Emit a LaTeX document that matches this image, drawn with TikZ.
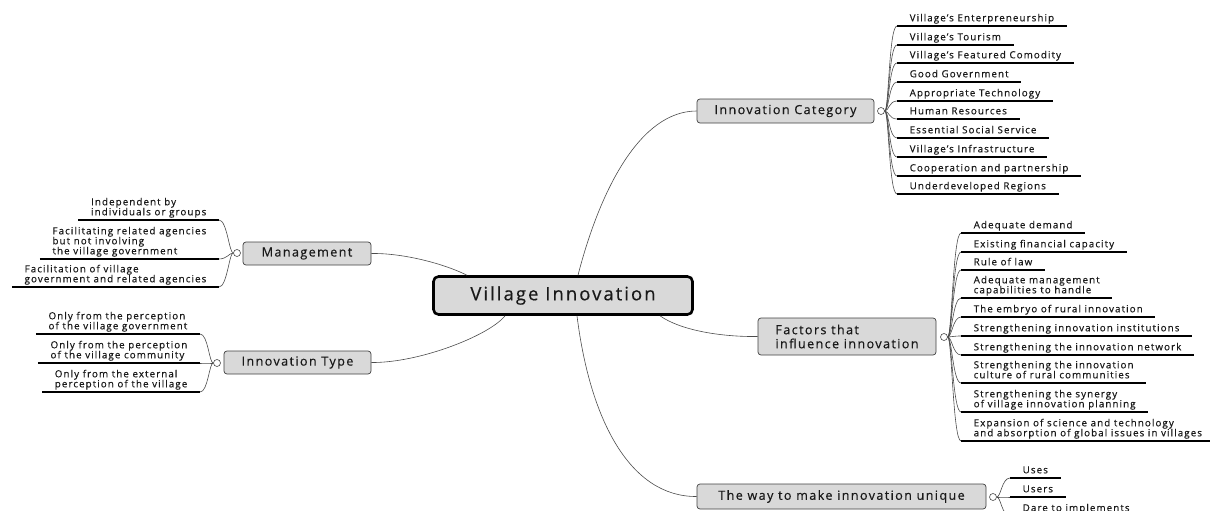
\documentclass[tikz,border=0pt]{standalone}
\usepackage{fontspec}
\setmainfont[LetterSpace=11,FakeBold=0.4]{Open Sans}
\begin{document}
\begin{tikzpicture}[x=1pt,y=-1pt,
    topic/.style={draw=black!75, fill=black!15, rounded corners=3pt, line width=0.7pt,
      font=\fontsize{12.6}{14}\selectfont, text=black!90, align=left, inner sep=0pt},
    root/.style={topic, draw=black, line width=2.6pt, rounded corners=5pt,
      font=\fontsize{18.5}{20}\selectfont},
    hub/.style={circle, draw=black!70, fill=white, line width=0.6pt, minimum size=7pt, inner sep=0pt},
    leaf/.style={font=\fontsize{9.8}{10}\selectfont, align=left, inner xsep=12.5pt,
      inner ysep=2pt, text depth=2.5pt, text=black!90},
    rleaf/.style={leaf, anchor=south west},
    lleaf/.style={leaf, anchor=south east},
    link/.style={draw=black!70, line width=0.6pt},
    uline/.style={draw=black, line width=1.3pt}]
    \useasboundingbox (0,0) rectangle (1210,511);
    \node[root, minimum width=259, minimum height=38] (vi) at (563,295.5) {Village Innovation};
    \node[topic, minimum width=177, minimum height=24] (ic) at (785.5,111) {Innovation Category};
    \node[topic, minimum width=128, minimum height=23] (mg) at (307,253.5) {Management};
    \node[topic, minimum width=147, minimum height=23] (it) at (297.5,362.5) {Innovation Type};
    \node[topic, minimum width=178, minimum height=37] (fi) at (847,336.5) {Factors that\\influence innovation};
    \node[topic, minimum width=289, minimum height=25] (wu) at (841.5,496.5) {The way to make innovation unique};
    \node[hub] (ich) at (881,111) {};
    \node[hub] (mgh) at (237,253) {};
    \node[hub] (ith) at (217,363) {};
    \node[hub] (fih) at (944,337) {};
    \node[hub] (wuh) at (993,497) {};
    \draw[link] ([xshift=15pt]vi.north) .. controls (600,190) and (640,111) .. (ic.west);
    \draw[link] ([xshift=-96pt]vi.north) .. controls (440,262) and (400,253) .. (mg.east);
    \draw[link] ([xshift=-58pt]vi.south) .. controls (490,335) and (420,363) .. (it.east);
    \draw[link] ([xshift=97pt]vi.south) .. controls (680,330) and (720,337) .. (fi.west);
    \draw[link] ([xshift=14pt]vi.south) .. controls (590,420) and (630,497) .. (wu.west);
    \foreach \y/\t [count=\i] in {26/Village's Enterpreneurship, 45/Village's Tourism,
        63/Village's Featured Comodity, 82/Good Government, 101/Appropriate Technology,
        119/Human Resources, 138/Essential Social Service, 157/Village's Infrastructure,
        176/Cooperation and partnership, 194/Underdeveloped Regions}{
      \node[rleaf] (ic\i) at (897,\y) {\t};
      \draw[link] (ich.east) .. controls +(4,0) and +(-8,0) .. (ic\i.south west);
      \draw[uline] (ic\i.south west) -- (ic\i.south east);
    }
    \foreach \y/\t [count=\i] in {220/{Independent by\\individuals or groups},
        259/{Facilitating related agencies\\but not involving\\the village government},
        287/{Facilitation of village\\government and related agencies}}{
      \node[lleaf] (mg\i) at (219,\y) {\t};
      \draw[link] (mgh.west) .. controls +(-4,0) and +(8,0) .. (mg\i.south east);
      \draw[uline] (mg\i.south west) -- (mg\i.south east);
    }
    \foreach \y/\t [count=\i] in {334/{Only from the perception\\of the village government},
        363/{Only from the perception\\of the village community},
        392/{Only from the external\\perception of the village}}{
      \node[lleaf] (it\i) at (200,\y) {\t};
      \draw[link] (ith.west) .. controls +(-4,0) and +(8,0) .. (it\i.south east);
      \draw[uline] (it\i.south west) -- (it\i.south east);
    }
    \foreach \y/\t [count=\i] in {233/Adequate demand, 252/Existing financial capacity,
        270/Rule of law, 298/{Adequate management\\capabilities to handle},
        317/The embryo of rural innovation, 336/Strengthening innovation institutions,
        355/Strengthening the innovation network,
        383/{Strengthening the innovation\\culture of rural communities},
        412/{Strengthening the synergy\\of village innovation planning},
        441/{Expansion of science and technology\\and absorption of global issues in villages}}{
      \node[rleaf] (fi\i) at (961,\y) {\t};
      \draw[link] (fih.east) .. controls +(4,0) and +(-8,0) .. (fi\i.south west);
      \draw[uline] (fi\i.south west) -- (fi\i.south east);
    }
    \foreach \y/\t [count=\i] in {478/Uses, 497/Users, 516/Dare to implements}{
      \node[rleaf] (wu\i) at (1010,\y) {\t};
      \draw[link] (wuh.east) .. controls +(4,0) and +(-8,0) .. (wu\i.south west);
      \draw[uline] (wu\i.south west) -- (wu\i.south east);
    }
\end{tikzpicture}
\end{document}
